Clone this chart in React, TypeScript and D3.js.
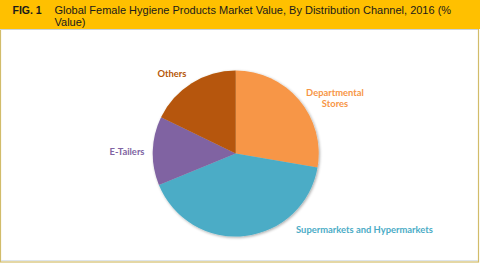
import React from "react";
import * as d3 from "d3";

const categories = ["Departmental Stores", "Supermarkets and Hypermarkets", "E-Tailers", "Others"];
const values = [27.7, 41.1, 13.4, 17.8];
const colors = ["#F79646", "#4BACC6", "#8064A2", "#B65708"];
const labelLines = [["Departmental", "Stores"], ["Supermarkets and Hypermarkets"], ["E-Tailers"], ["Others"]];
const labelPos: [number, number][] = [[335, 95.5], [364.5, 232.5], [127, 154.5], [172, 76.5]];

const W = 480;
const H = 263;
const cx = 235.7;
const cy = 153.5;
const R = 83;

export default function App() {
  const data = categories.map((c, i) => ({ c, v: values[i], i }));
  const pie = d3.pie<any>().sort(null).value((d: any) => d.v);
  const arc = d3.arc<any>().innerRadius(0).outerRadius(R);
  const arcs = pie(data);
  return (
    <svg width={W} height={H} style={{ position: "absolute", left: 0, top: 0 }}>
      <defs>
        <filter id="sh" x="-20%" y="-20%" width="140%" height="140%">
          <feGaussianBlur in="SourceAlpha" stdDeviation="1.5" />
          <feOffset dx="0.5" dy="1" result="b" />
          <feComponentTransfer><feFuncA type="linear" slope="0.35" /></feComponentTransfer>
          <feMerge><feMergeNode /><feMergeNode in="SourceGraphic" /></feMerge>
        </filter>
      </defs>
      <rect x={0} y={0} width={W} height={H} fill="#fff" />
      <rect x={0.5} y={0.5} width={W - 2} height={H - 1.5} fill="none" stroke="#D2BC6A" strokeWidth={1.2} />
      <line x1={1} x2={W - 2} y1={260.5} y2={260.5} stroke="#DDE4EA" strokeWidth={1} />
      <rect x={0} y={0} width={W} height={29} fill="#FFC000" />
      <line x1={0} x2={W - 2} y1={29.5} y2={29.5} stroke="#C9D3DE" strokeWidth={1} />
      <text x={12.5} y={14} fontFamily="Liberation Sans, Arial, sans-serif" fontSize={10.5} fontWeight="bold" fill="#1a1a1a">FIG. 1</text>
      <text fontFamily="Liberation Sans, Arial, sans-serif" fontSize={11} fill="#1a1a1a">
        <tspan x={54.5} y={14}>Global Female Hygiene Products Market Value, By Distribution Channel, 2016 (%</tspan>
        <tspan x={54.5} y={26}>Value)</tspan>
      </text>
      <g transform={`translate(${cx},${cy})`} filter="url(#sh)">
        {arcs.map((a, i) => (
          <path key={i} d={arc(a) as string} fill={colors[a.data.i]} />
        ))}
      </g>
      {labelLines.map((lines, i) => (
        <text key={i} textAnchor="middle" fontFamily="Lato, sans-serif" fontWeight="bold" fontSize={9.4} fill={colors[i]}>
          {lines.map((l, j) => (
            <tspan key={j} x={labelPos[i][0]} y={labelPos[i][1] + j * 11.5}>{l}</tspan>
          ))}
        </text>
      ))}
    </svg>
  );
}
